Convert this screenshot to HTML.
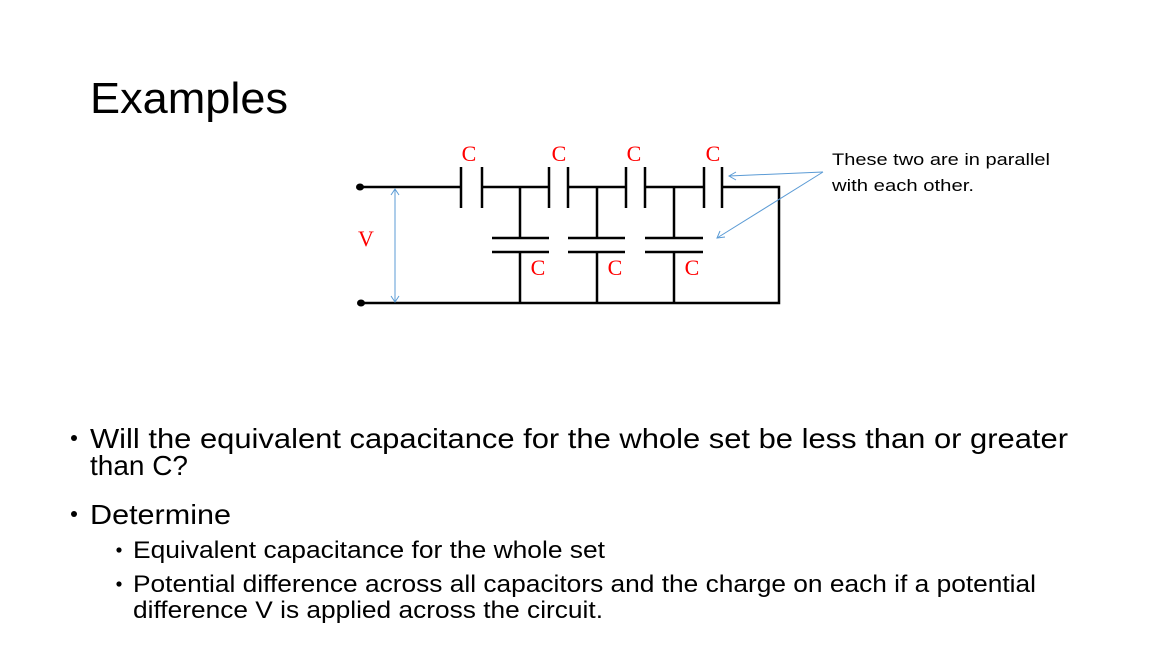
<!DOCTYPE html>
<html><head><style>
html,body{margin:0;padding:0;background:#fff;}
svg{display:block;}
text{font-family:"Liberation Sans",sans-serif;}
.s{font-family:"Liberation Serif",serif;fill:#ff0000;font-size:22px;}
</style></head><body>
<svg width="1155" height="650" viewBox="0 0 1155 650" xmlns="http://www.w3.org/2000/svg">
<text x="90" y="113" font-size="44" textLength="198" lengthAdjust="spacingAndGlyphs" fill="#000">Examples</text>

<g stroke="#000" stroke-width="2.5" fill="none">
<!-- top wire -->
<polyline points="360,187 461,187"/>
<polyline points="482,187 549,187"/>
<polyline points="568,187 626,187"/>
<polyline points="645,187 704,187"/>
<polyline points="722,187 779,187 779,303 360,303"/>
<!-- series plates -->
<line x1="461" y1="167" x2="461" y2="208"/><line x1="482" y1="167" x2="482" y2="208"/>
<line x1="549" y1="167" x2="549" y2="208"/><line x1="568" y1="167" x2="568" y2="208"/>
<line x1="626" y1="167" x2="626" y2="208"/><line x1="645" y1="167" x2="645" y2="208"/>
<line x1="704" y1="167" x2="704" y2="208"/><line x1="722" y1="167" x2="722" y2="208"/>
<!-- shunts -->
<line x1="520" y1="187" x2="520" y2="238"/><line x1="520" y1="252" x2="520" y2="303"/>
<line x1="492" y1="238" x2="549" y2="238"/><line x1="492" y1="252" x2="549" y2="252"/>
<line x1="597" y1="187" x2="597" y2="238"/><line x1="597" y1="252" x2="597" y2="303"/>
<line x1="568" y1="238" x2="625" y2="238"/><line x1="568" y1="252" x2="625" y2="252"/>
<line x1="674" y1="187" x2="674" y2="238"/><line x1="674" y1="252" x2="674" y2="303"/>
<line x1="645" y1="238" x2="703" y2="238"/><line x1="645" y1="252" x2="703" y2="252"/>
</g>
<ellipse cx="360" cy="187" rx="4" ry="3.5" fill="#000"/>
<ellipse cx="361" cy="303" rx="4" ry="3.5" fill="#000"/>

<g stroke="#5b9bd5" stroke-width="1" fill="none">
<line x1="395" y1="189" x2="395" y2="302"/>
<polyline points="391,195 395,189 399,195"/>
<polyline points="391,296 395,302 399,296"/>
<line x1="823" y1="172" x2="729" y2="176"/>
<polyline points="736,172 729,176 736,180"/>
<line x1="823" y1="172" x2="717" y2="238"/>
<polyline points="720,231 717,238 725,237"/>
</g>

<text class="s" x="469" y="161" text-anchor="middle">C</text>
<text class="s" x="559" y="161" text-anchor="middle">C</text>
<text class="s" x="634" y="161" text-anchor="middle">C</text>
<text class="s" x="713" y="161" text-anchor="middle">C</text>
<text class="s" x="538" y="275" text-anchor="middle">C</text>
<text class="s" x="615" y="275" text-anchor="middle">C</text>
<text class="s" x="692" y="275" text-anchor="middle">C</text>
<text class="s" x="366" y="246" text-anchor="middle">V</text>

<text x="832" y="165" font-size="17" textLength="218" lengthAdjust="spacingAndGlyphs">These two are in parallel</text>
<text x="832" y="191" font-size="17" textLength="142" lengthAdjust="spacingAndGlyphs">with each other.</text>

<circle cx="74" cy="438" r="3" fill="#000"/>
<text x="90" y="448" font-size="28" textLength="978" lengthAdjust="spacingAndGlyphs">Will the equivalent  capacitance for the whole set be less than or greater</text>
<text x="90" y="475" font-size="28" textLength="98" lengthAdjust="spacingAndGlyphs">than C?</text>
<circle cx="74" cy="514" r="3" fill="#000"/>
<text x="90" y="524" font-size="28" textLength="141" lengthAdjust="spacingAndGlyphs">Determine</text>
<circle cx="119" cy="550" r="2.6" fill="#000"/>
<text x="133" y="558" font-size="24" textLength="472" lengthAdjust="spacingAndGlyphs">Equivalent capacitance for the whole set</text>
<circle cx="119" cy="584" r="2.6" fill="#000"/>
<text x="133" y="592" font-size="24" textLength="903" lengthAdjust="spacingAndGlyphs">Potential difference across all capacitors and the charge on each if a potential</text>
<text x="133" y="618" font-size="24" textLength="470" lengthAdjust="spacingAndGlyphs">difference V is applied across the circuit.</text>
</svg>
</body></html>
